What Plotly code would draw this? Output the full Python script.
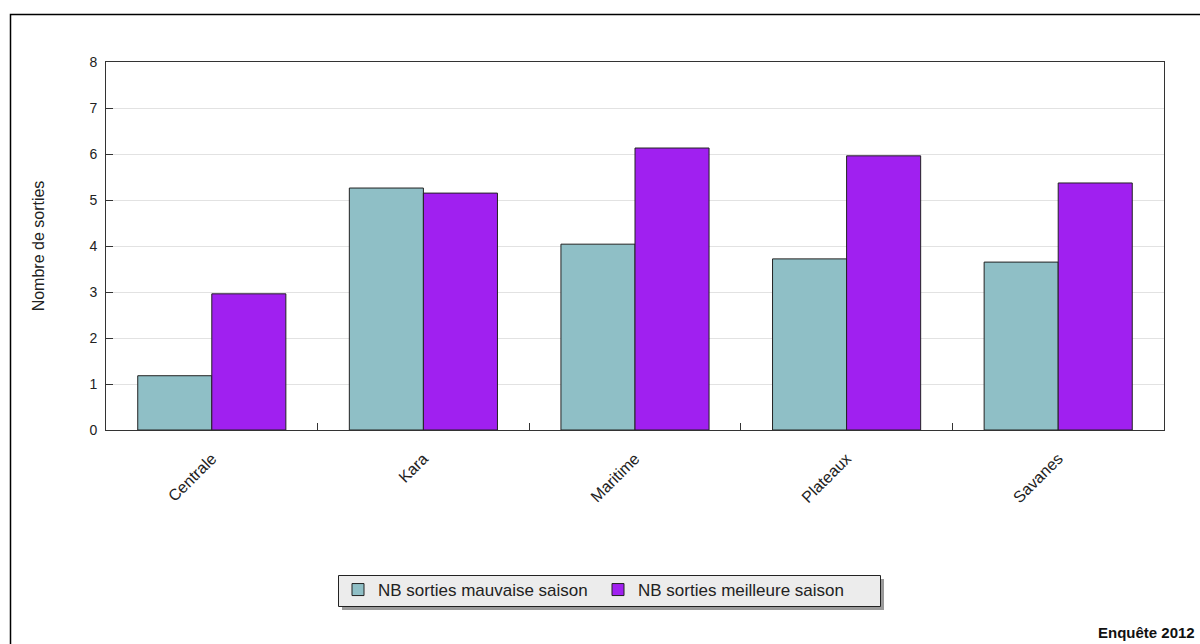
import plotly.graph_objects as go

categories = ["Centrale", "Kara", "Maritime", "Plateaux", "Savanes"]
mauvaise = [1.18, 5.26, 4.04, 3.72, 3.65]
meilleure = [2.96, 5.15, 6.13, 5.96, 5.37]
series_names = ["NB sorties mauvaise saison", "NB sorties meilleure saison"]
y_ticks = [0, 1, 2, 3, 4, 5, 6, 7, 8]

W, H = 1200, 644
L, R, T, B = 106, 1164, 62, 430

def px_x(p):
    return (p - L) / (R - L)

def px_y(p):
    return (B - p) / (B - T)

font = "Liberation Sans, Arial, sans-serif"
fig = go.Figure()
fig.add_trace(go.Bar(x=categories, y=mauvaise, name=series_names[0],
                     marker=dict(color="#8FBFC6", line=dict(color="#222222", width=1))))
fig.add_trace(go.Bar(x=categories, y=meilleure, name=series_names[1],
                     marker=dict(color="#A020F0", line=dict(color="#222222", width=1))))

shapes = [
    # outer border
    dict(type="rect", xref="paper", yref="paper", x0=px_x(10.5), x1=px_x(1215), y0=px_y(14.5), y1=px_y(670),
         line=dict(color="#000000", width=1.5), fillcolor="rgba(0,0,0,0)", layer="below"),
    # legend shadow
    dict(type="rect", xref="paper", yref="paper", x0=px_x(342), x1=px_x(884), y0=px_y(579), y1=px_y(610),
         line=dict(width=0), fillcolor="#9a9a9a", layer="below"),
    # legend box
    dict(type="rect", xref="paper", yref="paper", x0=px_x(338.5), x1=px_x(880.5), y0=px_y(575.5), y1=px_y(606.5),
         line=dict(color="#222222", width=1), fillcolor="#ECECEC", layer="below"),
]

fig.update_layout(
    width=W, height=H,
    margin=dict(l=L, r=W - R, t=T, b=H - B),
    paper_bgcolor="white", plot_bgcolor="white",
    barmode="group", bargap=0.3, bargroupgap=0,
    font=dict(family=font, size=14, color="#222222"),
    showlegend=True,
    legend=dict(orientation="h", xref="container", yref="container", x=338 / W, xanchor="left",
                y=1 - 590 / H, yanchor="middle",
                bgcolor="rgba(0,0,0,0)", borderwidth=0,
                font=dict(family=font, size=17, color="#222222"),
                entrywidth=215, entrywidthmode="pixels",
                traceorder="normal"),
    xaxis=dict(type="category", tickson="boundaries", ticks="inside", ticklen=7, tickcolor="#333333",
               tickangle=-45, showline=True, linecolor="#333333", linewidth=1, mirror=True,
               ticklabelstandoff=12,
               tickfont=dict(family=font, size=16, color="#222222"), showgrid=False),
    yaxis=dict(range=[0, 8], tickvals=y_ticks, ticks="inside", ticklen=7, tickcolor="#333333",
               showline=True, linecolor="#333333", linewidth=1, mirror=True,
               showgrid=True, gridcolor="#E2E2E2", gridwidth=1, zeroline=False,
               ticklabelstandoff=5,
               tickfont=dict(family=font, size=14, color="#222222"),
               title=dict(text="Nombre de sorties", standoff=40,
                          font=dict(family=font, size=16, color="#222222"))),
    shapes=shapes,
    annotations=[dict(text="<b>Enquête 2012</b>", xref="paper", yref="paper",
                      x=px_x(1197), y=px_y(632), xanchor="right", yanchor="middle",
                      showarrow=False, font=dict(family=font, size=15, color="#111111"))],
)

fig.write_html("out.html", config={"displayModeBar": False},
               post_script="document.body.style.margin='0';document.body.style.overflow='hidden';")
